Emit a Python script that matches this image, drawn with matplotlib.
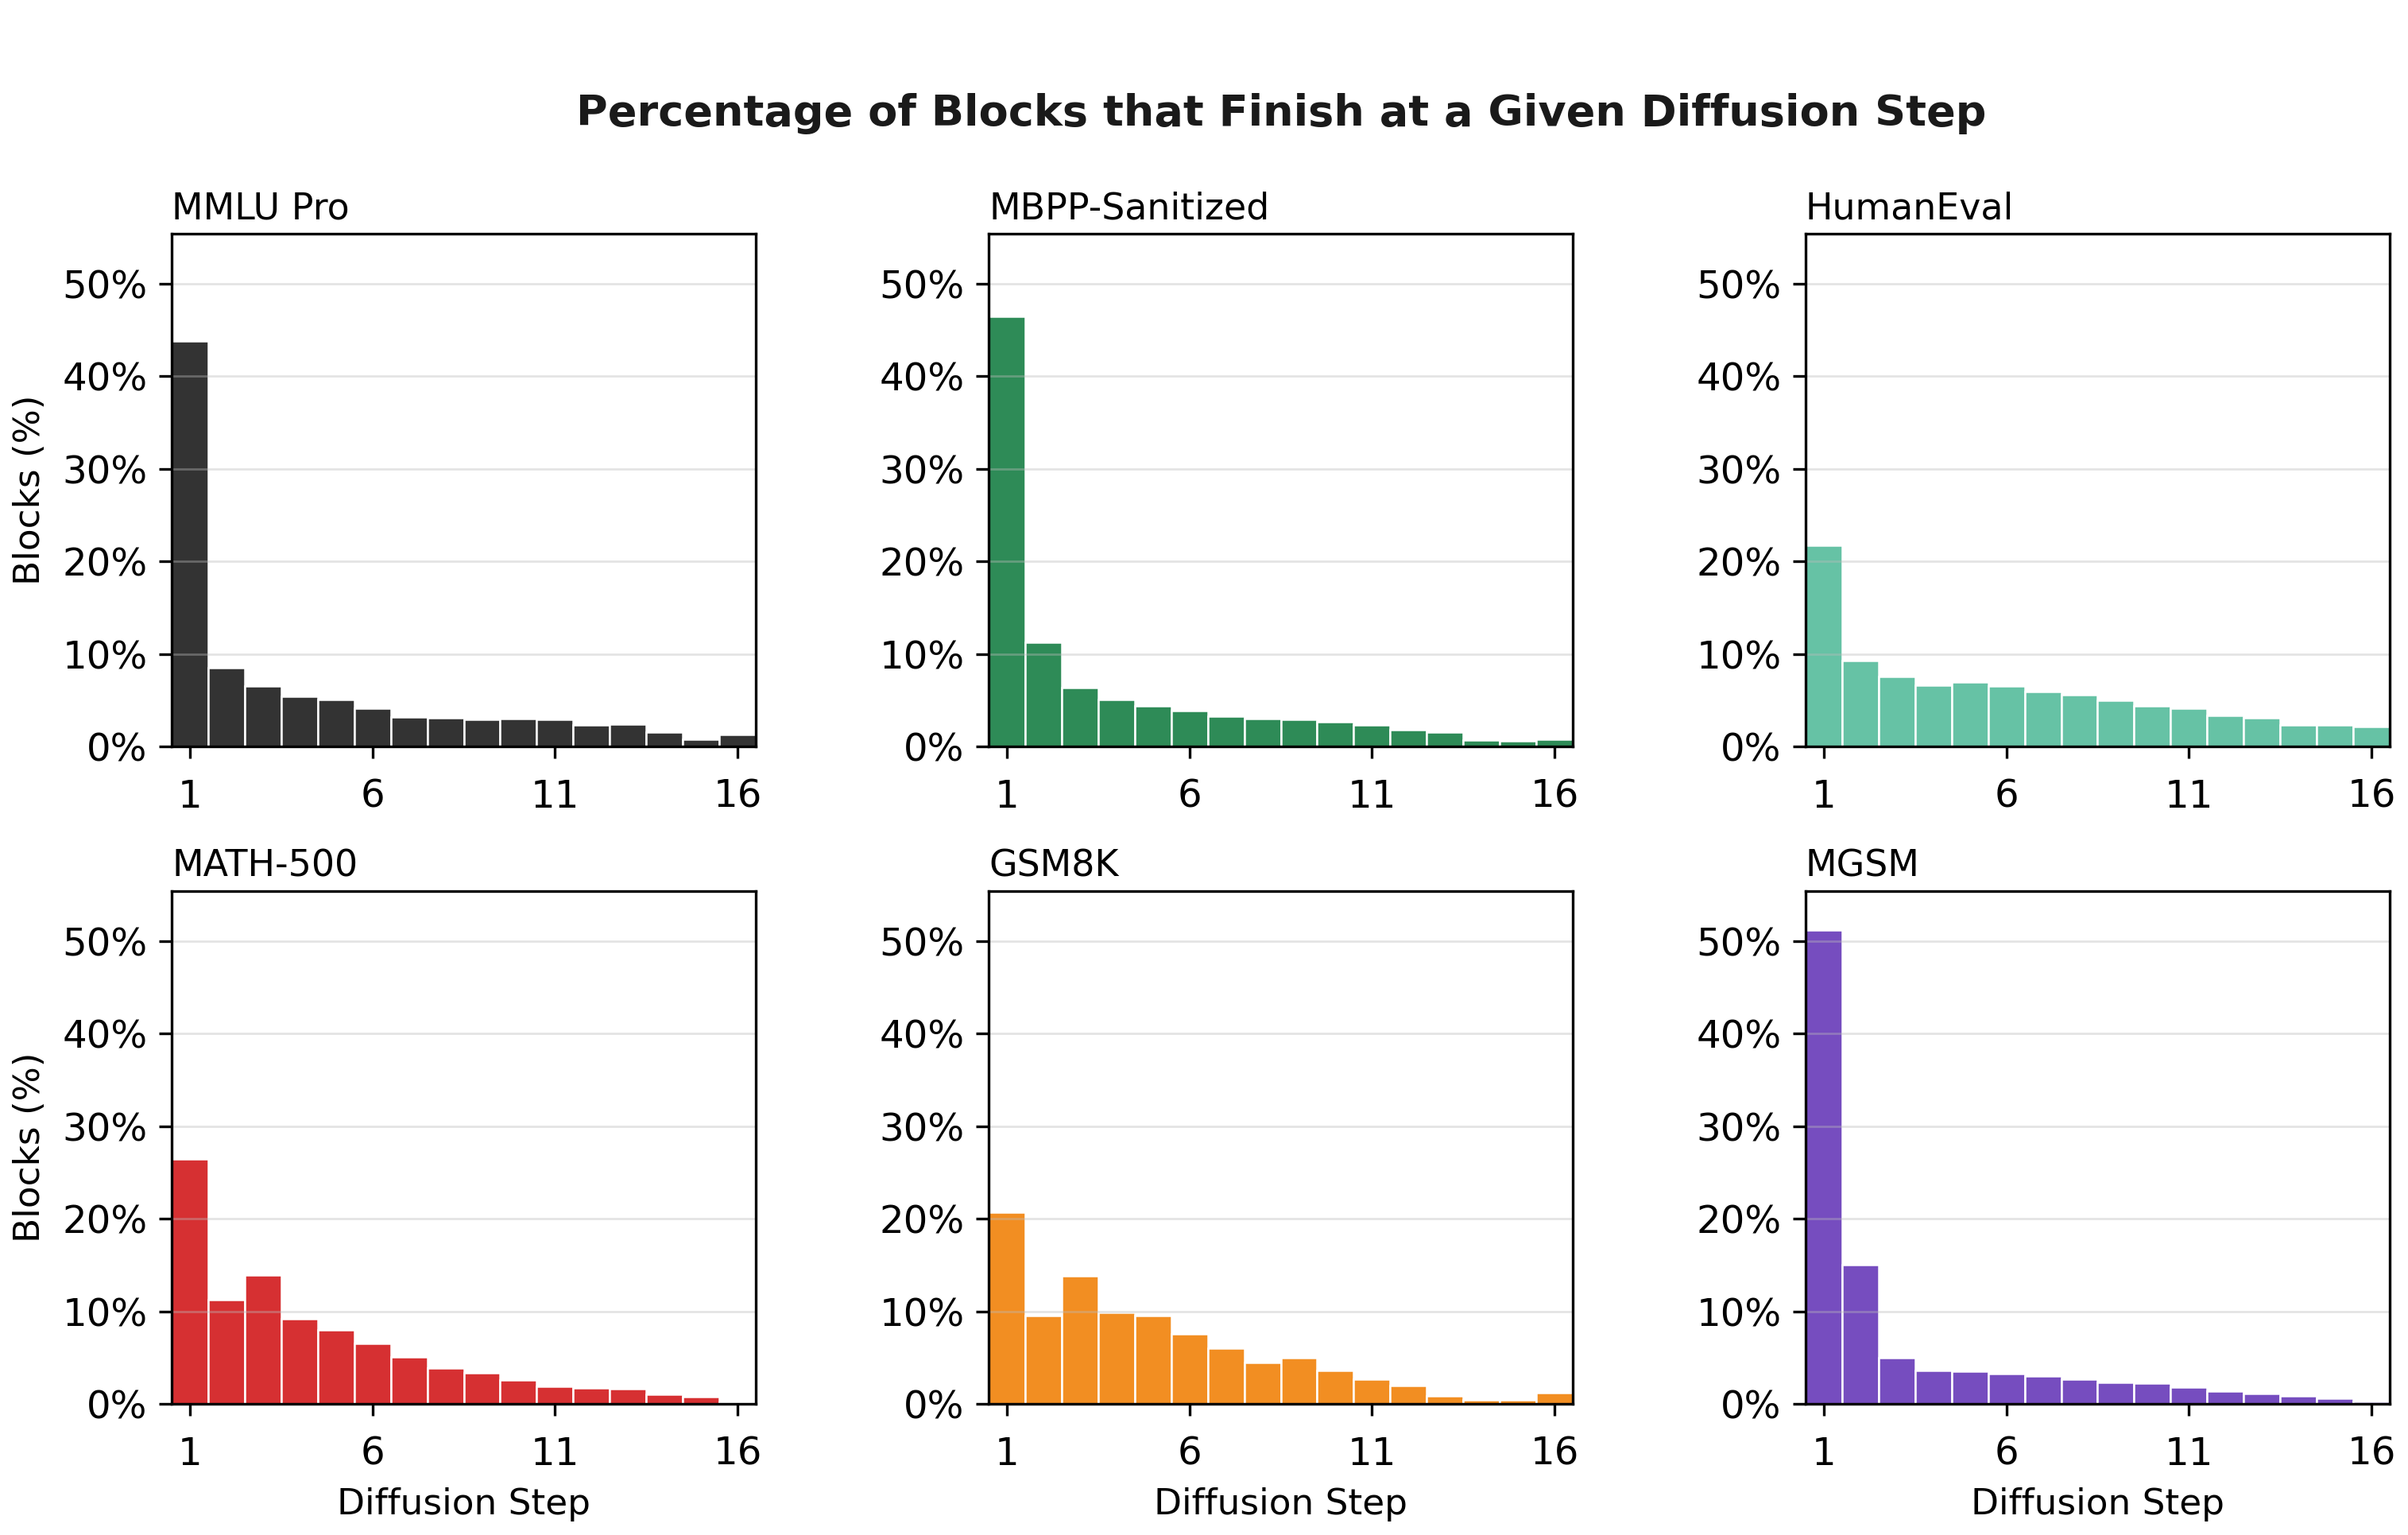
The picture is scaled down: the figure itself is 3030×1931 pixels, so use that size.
import numpy as np
import matplotlib
matplotlib.use("Agg")
import matplotlib.pyplot as plt
from matplotlib.ticker import FuncFormatter

# Diffusion steps 1..16 and percentage of blocks finishing at each step
steps = np.arange(1, 17)

mmlu_pro = [43.8, 8.5, 6.5, 5.4, 5.1, 4.1, 3.2, 3.1, 2.9, 3.0, 2.9, 2.3, 2.4, 1.6, 0.8, 1.3]
mbpp = [46.5, 11.3, 6.4, 5.1, 4.4, 3.9, 3.3, 3.0, 2.9, 2.7, 2.3, 1.8, 1.6, 0.7, 0.6, 0.8]
humaneval = [21.7, 9.3, 7.6, 6.6, 7.0, 6.5, 5.9, 5.6, 5.0, 4.4, 4.1, 3.4, 3.1, 2.3, 2.3, 2.2]
math500 = [26.5, 11.3, 13.9, 9.2, 8.0, 6.5, 5.1, 3.9, 3.4, 2.6, 1.9, 1.7, 1.6, 1.0, 0.8, 0.2]
gsm8k = [20.7, 9.5, 13.8, 9.9, 9.5, 7.6, 6.0, 4.5, 5.0, 3.6, 2.7, 2.0, 0.9, 0.45, 0.45, 1.2]
mgsm = [51.2, 15.0, 5.0, 3.6, 3.5, 3.3, 3.0, 2.7, 2.3, 2.2, 1.8, 1.4, 1.1, 0.85, 0.6, 0.25]

names = ["MMLU Pro", "MBPP-Sanitized", "HumanEval", "MATH-500", "GSM8K", "MGSM"]
series = [mmlu_pro, mbpp, humaneval, math500, gsm8k, mgsm]
colors = ["#333333", "#2e8b57", "#66c2a5", "#d63032", "#f28e22", "#764dbf"]

fig, axes = plt.subplots(2, 3, figsize=(10.1, 6.4367), dpi=300)
fig.subplots_adjust(left=0.0713, right=0.9924, top=0.8477, bottom=0.0854,
                    wspace=0.3986, hspace=0.282)

pct = FuncFormatter(lambda v, _: f"{v:.0f}%")

for i, ax in enumerate(axes.flat):
    ax.bar(steps, series[i], width=1.0, color=colors[i], edgecolor="white", linewidth=0.6)
    ax.set_xlim(0.5, 16.5)
    ax.set_ylim(0, 55.4)
    ax.set_xticks([1, 6, 11, 16])
    ax.set_yticks([0, 10, 20, 30, 40, 50])
    ax.yaxis.set_major_formatter(pct)
    ax.yaxis.grid(True, color="#bbbbbb", alpha=0.4, linewidth=0.65)
    ax.tick_params(axis="x", labelsize=11.6, pad=6, length=3.5)
    ax.tick_params(axis="y", labelsize=11.6, pad=3.5, length=3.8)
    for sp in ax.spines.values():
        sp.set_color("black")
        sp.set_linewidth(0.8)
    ax.set_title(names[i], loc="left", fontsize=11, pad=4.5)
    if i % 3 == 0:
        ax.set_ylabel("Blocks (%)", fontsize=10.9, labelpad=4.6)
    if i >= 3:
        ax.set_xlabel("Diffusion Step", fontsize=10.9, labelpad=4.5)

fig.suptitle("Percentage of Blocks that Finish at a Given Diffusion Step",
             x=0.532, y=0.926, va="center", fontsize=13, fontweight="bold", color="#1a1a1a")

fig.savefig("out.png", dpi=300, facecolor="white")
